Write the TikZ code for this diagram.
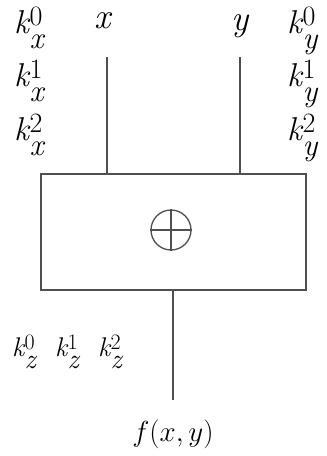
\documentclass[tikz,border=0pt]{standalone}
\usepackage{fix-cm}
\usepackage{fontspec}
\definecolor{linegray}{HTML}{505050}
\newcommand{\kmain}{\fontsize{33}{33}\selectfont}
\newcommand{\ksup}{\fontsize{28}{28}\selectfont}
\newcommand{\ksub}{\fontsize{31}{31}\selectfont}
\newcommand{\kup}{8pt}
\newcommand{\kdown}{15pt}
\newcommand{\kl}[2]{{\kmain\textit{k}}\kern-1pt\rlap{\raisebox{\kup}{\ksup #1}}\raisebox{-\kdown}{\ksub\textit{#2}}}
\begin{document}
\begin{tikzpicture}[x=1pt,y=-1pt,
  wire/.style={draw=linegray,line width=1.6pt},
  lbl/.style={inner sep=0pt,anchor=base,font=\fontsize{36}{40}\selectfont},
  klbl/.style={inner sep=0pt,anchor=base west},
  kzlbl/.style={inner sep=0pt,anchor=base west,font={%
    \renewcommand{\kmain}{\fontsize{27}{27}\selectfont}%
    \renewcommand{\ksup}{\fontsize{22}{22}\selectfont}%
    \renewcommand{\ksub}{\fontsize{28}{28}\selectfont}%
    \renewcommand{\kup}{7pt}\renewcommand{\kdown}{12pt}}}]
\useasboundingbox (0,0) rectangle (327,456);
\node[wire,draw,rectangle,minimum width=265pt,minimum height=116pt,inner sep=0pt] (box) at (173.5,232) {};
\coordinate (inx) at (107,57);
\coordinate (iny) at (240,57);
\coordinate (bx) at (107,174);
\coordinate (by) at (240,174);
\coordinate (out) at (173,400);
\coordinate (bo) at (173,290);
\draw[wire] (inx) -- (bx);
\draw[wire] (iny) -- (by);
\draw[wire] (bo) -- (out);
\node[circle,draw=linegray,line width=1.3pt,minimum size=40pt,inner sep=0pt] (op) at (171,230) {};
\draw[line width=1.3pt,draw=linegray] (op.north) -- (op.south) (op.west) -- (op.east);
\node[lbl] (lx) at (104,28) {\textit{x}};
\node[lbl] (ly) at (241,30) {\textit{y}};
\node[klbl] (kx0) at (14,33) {\kl{0}{x}};
\node[klbl] (kx1) at (14,86) {\kl{1}{x}};
\node[klbl] (kx2) at (14,140) {\kl{2}{x}};
\node[klbl] (ky0) at (287,33) {\kl{0}{y}};
\node[klbl] (ky1) at (287,86) {\kl{1}{y}};
\node[klbl] (ky2) at (287,140) {\kl{2}{y}};
\node[kzlbl] (kz0) at (12,356) {\kl{0}{z}};
\node[kzlbl] (kz1) at (55,356) {\kl{1}{z}};
\node[kzlbl] (kz2) at (98,356) {\kl{2}{z}};
\node[inner sep=0pt,anchor=base,font=\fontsize{29}{32}\selectfont] (f) at (173,441) {$f(x,y)$};
\end{tikzpicture}
\end{document}
